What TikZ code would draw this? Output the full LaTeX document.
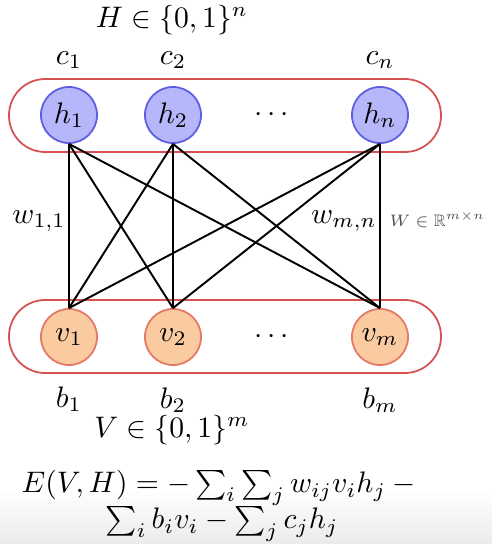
\documentclass[tikz,border=0pt]{standalone}
\usepackage{amsmath,amssymb}
\definecolor{hidfill}{RGB}{182,182,250}
\definecolor{hiddraw}{RGB}{95,95,225}
\definecolor{visfill}{RGB}{250,202,160}
\definecolor{visdraw}{RGB}{228,122,102}
\definecolor{boxred}{RGB}{214,82,82}
\begin{document}
\begin{tikzpicture}[x=0.337pt, y=-0.337pt, font=\normalsize, inner sep=1pt,
        hnode/.style={circle, draw=hiddraw, line width=0.6pt, minimum size=18.9pt, inner sep=0pt, fill=hidfill},
        vnode/.style={circle, draw=visdraw, line width=0.6pt, minimum size=18.9pt, inner sep=0pt, fill=visfill},
        layerbox/.style={draw=boxred, line width=0.6pt, rounded corners=12.2pt},
        wlink/.style={line width=0.65pt, black}]
        \useasboundingbox (0,0) rectangle (492,544);
        % ---- bottom fade ----
        \shade[top color=white, bottom color=gray!16] (0,490) rectangle (492,544);
        % ---- layers ----
        \draw[layerbox] (9,79) rectangle (441,152);
        \draw[layerbox] (9,300) rectangle (441,373);
        % ---- hidden units ----
        \node (Hset) at (172,20) {$H \in \{0,1\}^n$};
        \node (c1) at (69,60) {$c_1$};
        \node (c2) at (173,60) {$c_2$};
        \node (cn) at (380,60) {$c_n$};
        \node[hnode] (h1) at (69,115) {$h_1$};
        \node[hnode] (h2) at (173,115) {$h_2$};
        \node (hdots) at (274,115) {$\cdots$};
        \node[hnode] (hn) at (380,115) {$h_n$};
        % ---- visible units ----
        \node[vnode] (v1) at (69,337) {$v_1$};
        \node[vnode] (v2) at (173,337) {$v_2$};
        \node (vdots) at (274,337) {$\cdots$};
        \node[vnode] (vm) at (380,337) {$v_m$};
        \node (b1) at (69,399) {$b_1$};
        \node (b2) at (173,400) {$b_2$};
        \node (bm) at (380,400) {$b_m$};
        \node (Vset) at (172,430) {$V \in \{0,1\}^m$};
        % ---- weights ----
        \foreach \a in {h1, h2, hn}
          \foreach \b in {v1, v2, vm}
            \draw[wlink] (\a.south) -- (\b.north);
        \node (w11) at (39,221) {$w_{1,1}$};
        \node (wmn) at (344,221) {$w_{m,n}$};
        \node[font=\scriptsize, scale=0.8, text=black!70, anchor=west] (Wset) at (387,220) {$W \in \mathbb{R}^{m\times n}$};
        % ---- energy ----
        \node (E1) at (222,488) {$E(V,H) = -\sum_i \sum_j w_{ij} v_i h_j -{}$};
        \node (E2) at (222,524) {$\sum_i b_i v_i - \sum_j c_j h_j$};
    \end{tikzpicture}
\end{document}
